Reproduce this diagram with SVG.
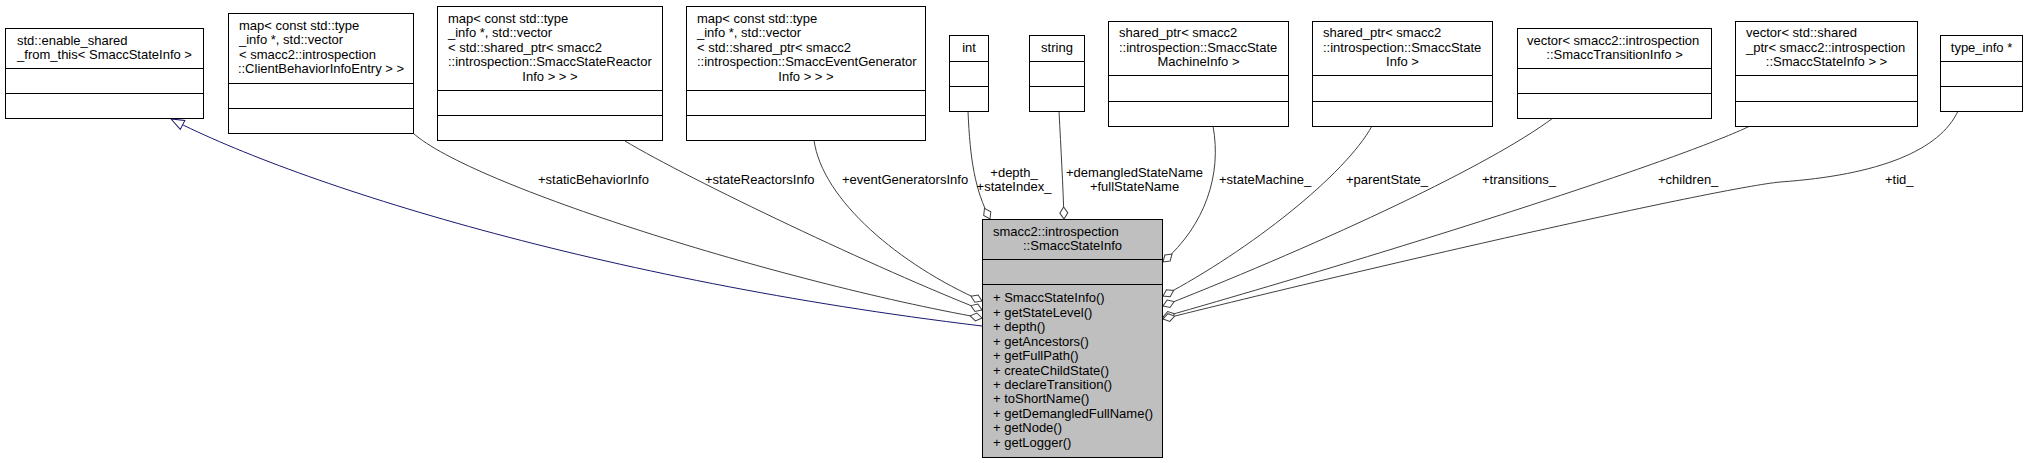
<svg xmlns="http://www.w3.org/2000/svg" width="2029" height="463" viewBox="0 0 2029 463">
<style>
text{font-family:"Liberation Sans",Arial,sans-serif;font-size:13px;fill:#000}
.m{text-anchor:middle}
.box{fill:#fff;stroke:#000;stroke-width:1}
.main{fill:#bfbfbf;stroke:#000;stroke-width:1}
.div{stroke:#000;stroke-width:1}
.e{fill:none;stroke:#404040;stroke-width:1;marker-end:url(#dia)}
.inh{fill:none;stroke:#191970;stroke-width:1;marker-end:url(#tri)}
</style>
<defs>
<marker id="dia" markerUnits="userSpaceOnUse" orient="auto" refX="13" refY="5" markerWidth="14" markerHeight="10" overflow="visible">
<path d="M1,5 L7,1 L13,5 L7,9 Z" fill="#fff" stroke="#404040" stroke-width="1"/>
</marker>
<marker id="tri" markerUnits="userSpaceOnUse" orient="auto" refX="13" refY="5" markerWidth="14" markerHeight="10" overflow="visible">
<path d="M0,0 L13,5 L0,10 Z" fill="#fff" stroke="#191970" stroke-width="1"/>
</marker>
</defs>
<rect width="2029" height="463" fill="#fff"/>

<g id="connectors">
<path class="inh" d="M982,326 C600,280 300,185 171,119"/>
<path class="e" d="M413,133 C470,185 780,282 982,318"/>
<path class="e" d="M625,141 C690,180 880,270 982,310"/>
<path class="e" d="M814,140 C822,200 900,265 982,301"/>
<path class="e" d="M968,111 C970,160 975,190 990,219"/>
<path class="e" d="M1059,111 C1061,150 1063,185 1064,219"/>
<path class="e" d="M1213,126 C1222,175 1205,225 1163,262"/>
<path class="e" d="M1372,126 C1345,175 1250,250 1163,296"/>
<path class="e" d="M1553,118 C1490,165 1330,240 1163,306"/>
<path class="e" d="M1750,126 C1690,155 1450,235 1163,317"/>
<path class="e" d="M1958,111 C1940,150 1880,175 1780,182 C1720,188 1400,260 1163,319"/>
<text x="538" y="184">+staticBehaviorInfo</text>
<text x="705" y="184">+stateReactorsInfo</text>
<text x="842" y="184">+eventGeneratorsInfo</text>
<text class="m" x="1014" y="176.5">+depth_</text>
<text class="m" x="1014" y="191">+stateIndex_</text>
<text class="m" x="1134.5" y="176.5">+demangledStateName</text>
<text class="m" x="1134.5" y="191">+fullStateName</text>
<text x="1219" y="184">+stateMachine_</text>
<text x="1346" y="184">+parentState_</text>
<text x="1482" y="184">+transitions_</text>
<text x="1658" y="184">+children_</text>
<text x="1885" y="184">+tid_</text>
</g>

<g id="n_enable_shared">
<rect class="box" x="5.5" y="28.5" width="198" height="90"/>
<line class="div" x1="5.5" y1="68.5" x2="203.5" y2="68.5"/>
<line class="div" x1="5.5" y1="93.5" x2="203.5" y2="93.5"/>
<text x="17" y="44.6">std::enable_shared</text>
<text class="m" x="104.5" y="59">_from_this&lt; SmaccStateInfo &gt;</text>
</g>

<g id="n_map_client">
<rect class="box" x="228.5" y="13.5" width="185" height="120"/>
<line class="div" x1="228.5" y1="83.5" x2="413.5" y2="83.5"/>
<line class="div" x1="228.5" y1="108.5" x2="413.5" y2="108.5"/>
<text x="239" y="30">map&lt; const std::type</text>
<text x="239" y="44.4">_info *, std::vector</text>
<text x="239" y="58.8">&lt; smacc2::introspection</text>
<text class="m" x="321" y="73.2">::ClientBehaviorInfoEntry &gt; &gt;</text>
</g>

<g id="n_map_reactor">
<rect class="box" x="437.5" y="6.5" width="225" height="134"/>
<line class="div" x1="437.5" y1="90.5" x2="662.5" y2="90.5"/>
<line class="div" x1="437.5" y1="115.5" x2="662.5" y2="115.5"/>
<text x="448" y="23">map&lt; const std::type</text>
<text x="448" y="37.4">_info *, std::vector</text>
<text x="448" y="51.8">&lt; std::shared_ptr&lt; smacc2</text>
<text x="448" y="66.2">::introspection::SmaccStateReactor</text>
<text class="m" x="550" y="80.6">Info &gt; &gt; &gt;</text>
</g>

<g id="n_map_eventgen">
<rect class="box" x="686.5" y="6.5" width="239" height="134"/>
<line class="div" x1="686.5" y1="90.5" x2="925.5" y2="90.5"/>
<line class="div" x1="686.5" y1="115.5" x2="925.5" y2="115.5"/>
<text x="697" y="23">map&lt; const std::type</text>
<text x="697" y="37.4">_info *, std::vector</text>
<text x="697" y="51.8">&lt; std::shared_ptr&lt; smacc2</text>
<text x="697" y="66.2">::introspection::SmaccEventGenerator</text>
<text class="m" x="806" y="80.6">Info &gt; &gt; &gt;</text>
</g>

<g id="n_int">
<rect class="box" x="949.5" y="35.5" width="39" height="76"/>
<line class="div" x1="949.5" y1="61.5" x2="988.5" y2="61.5"/>
<line class="div" x1="949.5" y1="86.5" x2="988.5" y2="86.5"/>
<text class="m" x="969" y="52">int</text>
</g>

<g id="n_string">
<rect class="box" x="1029.5" y="35.5" width="55" height="76"/>
<line class="div" x1="1029.5" y1="61.5" x2="1084.5" y2="61.5"/>
<line class="div" x1="1029.5" y1="86.5" x2="1084.5" y2="86.5"/>
<text class="m" x="1057" y="52">string</text>
</g>

<g id="n_sp_statemachine">
<rect class="box" x="1108.5" y="21.5" width="180" height="105"/>
<line class="div" x1="1108.5" y1="75.5" x2="1288.5" y2="75.5"/>
<line class="div" x1="1108.5" y1="101.5" x2="1288.5" y2="101.5"/>
<text x="1119" y="37.4">shared_ptr&lt; smacc2</text>
<text x="1119" y="51.8">::introspection::SmaccState</text>
<text class="m" x="1198.5" y="66.2">MachineInfo &gt;</text>
</g>

<g id="n_sp_stateinfo">
<rect class="box" x="1312.5" y="21.5" width="180" height="105"/>
<line class="div" x1="1312.5" y1="75.5" x2="1492.5" y2="75.5"/>
<line class="div" x1="1312.5" y1="101.5" x2="1492.5" y2="101.5"/>
<text x="1323" y="37.4">shared_ptr&lt; smacc2</text>
<text x="1323" y="51.8">::introspection::SmaccState</text>
<text class="m" x="1402.5" y="66.2">Info &gt;</text>
</g>

<g id="n_vec_transition">
<rect class="box" x="1517.5" y="28.5" width="194" height="90"/>
<line class="div" x1="1517.5" y1="68.5" x2="1711.5" y2="68.5"/>
<line class="div" x1="1517.5" y1="93.5" x2="1711.5" y2="93.5"/>
<text x="1527" y="44.6">vector&lt; smacc2::introspection</text>
<text class="m" x="1614.5" y="59">::SmaccTransitionInfo &gt;</text>
</g>

<g id="n_vec_children">
<rect class="box" x="1735.5" y="21.5" width="182" height="105"/>
<line class="div" x1="1735.5" y1="75.5" x2="1917.5" y2="75.5"/>
<line class="div" x1="1735.5" y1="101.5" x2="1917.5" y2="101.5"/>
<text x="1746" y="37.4">vector&lt; std::shared</text>
<text x="1746" y="51.8">_ptr&lt; smacc2::introspection</text>
<text class="m" x="1826.5" y="66.2">::SmaccStateInfo &gt; &gt;</text>
</g>

<g id="n_type_info">
<rect class="box" x="1940.5" y="35.5" width="82" height="76"/>
<line class="div" x1="1940.5" y1="61.5" x2="2022.5" y2="61.5"/>
<line class="div" x1="1940.5" y1="86.5" x2="2022.5" y2="86.5"/>
<text class="m" x="1981.5" y="52">type_info *</text>
</g>

<g id="n_main">
<rect class="main" x="982.5" y="219.5" width="180" height="238"/>
<line class="div" x1="982.5" y1="259.5" x2="1162.5" y2="259.5"/>
<line class="div" x1="982.5" y1="284.5" x2="1162.5" y2="284.5"/>
<text x="993" y="235.6">smacc2::introspection</text>
<text class="m" x="1072.5" y="250">::SmaccStateInfo</text>
<text x="993" y="302.3">+ SmaccStateInfo()</text>
<text x="993" y="316.75">+ getStateLevel()</text>
<text x="993" y="331.2">+ depth()</text>
<text x="993" y="345.65">+ getAncestors()</text>
<text x="993" y="360.1">+ getFullPath()</text>
<text x="993" y="374.55">+ createChildState()</text>
<text x="993" y="389">+ declareTransition()</text>
<text x="993" y="403.45">+ toShortName()</text>
<text x="993" y="417.9">+ getDemangledFullName()</text>
<text x="993" y="432.35">+ getNode()</text>
<text x="993" y="446.8">+ getLogger()</text>
</g>
</svg>
